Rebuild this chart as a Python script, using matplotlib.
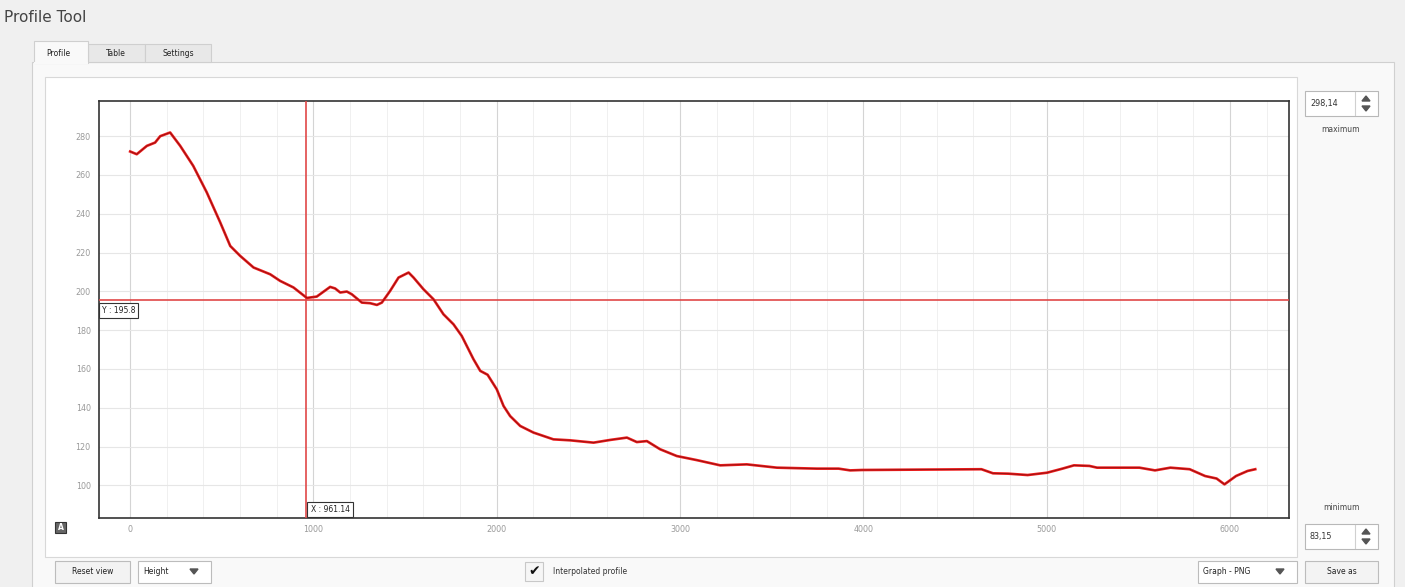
import matplotlib
matplotlib.use("Agg")
import matplotlib.pyplot as plt
from matplotlib.patches import Rectangle, Polygon
from matplotlib.ticker import MultipleLocator

# profile data (distance, height)
dist = [0, 36, 91, 136, 164, 218, 273, 344, 418, 454, 491, 546, 600, 673, 764,
        818, 891, 964, 1018, 1091, 1118, 1146, 1182, 1209, 1264, 1309, 1346,
        1373, 1418, 1464, 1519, 1546, 1600, 1655, 1709, 1764, 1809, 1873, 1910,
        1950, 2000, 2037, 2073, 2128, 2200, 2309, 2400, 2528, 2619, 2710, 2764,
        2819, 2891, 2982, 3091, 3219, 3364, 3528, 3746, 3865, 3928, 3992, 4644,
        4707, 4791, 4896, 5002, 5086, 5149, 5233, 5275, 5506, 5591, 5675, 5780,
        5864, 5927, 5970, 6033, 6096, 6138]
height = [272.1, 270.7, 275.0, 276.7, 280.0, 281.9, 275.0, 264.7, 251.0, 243.4,
          235.6, 223.4, 218.3, 212.3, 208.8, 205.4, 202.0, 196.6, 197.3, 202.3,
          201.5, 199.4, 199.9, 198.5, 194.2, 193.9, 193.0, 194.2, 200.2, 207.1,
          209.7, 207.1, 201.1, 195.9, 188.2, 183.0, 177.0, 165.0, 159.0, 157.0,
          149.5, 140.9, 135.7, 130.6, 127.2, 123.7, 123.2, 122.0, 123.4, 124.6,
          122.3, 122.8, 118.6, 115.1, 113.0, 110.3, 110.8, 109.1, 108.6, 108.6,
          107.7, 107.9, 108.3, 106.2, 106.0, 105.3, 106.5, 108.6, 110.3, 110.0,
          109.1, 109.1, 107.7, 109.1, 108.3, 104.8, 103.5, 100.5, 104.8, 107.4,
          108.3]

y_min, y_max = 83.15, 298.14
x_lim = (-170, 6322)
cursor_x = 961.14
cursor_y = 195.8

W, H = 1405, 587
fig = plt.figure(figsize=(W / 100, H / 100), dpi=100)
fig.patch.set_facecolor("#f0f0f0")

# background "window" drawn in pixel coords
bg = fig.add_axes([0, 0, 1, 1], zorder=0)
bg.set_xlim(0, W)
bg.set_ylim(H, 0)
bg.axis("off")


def box(x0, y0, x1, y1, fc="#ffffff", ec="#bdbdbd", lw=0.8, z=1):
    bg.add_patch(Rectangle((x0, y0), x1 - x0, y1 - y0, facecolor=fc,
                           edgecolor=ec, linewidth=lw, zorder=z))


bg.text(4, 18, "Profile Tool", fontsize=11, color="#444444", va="center",
        ha="left")

# tab panel
box(32, 62, 1394, 590, fc="#f9f9f9", ec="#d0d0d0")
box(34, 41, 88, 63, fc="#f9f9f9", ec="#cfcfcf", z=2)
bg.plot([35, 87], [62.6, 62.6], color="#f9f9f9", lw=1.5, zorder=3)
box(88, 44, 145, 62, fc="#e8e8e8", ec="#cfcfcf")
box(145, 44, 211, 62, fc="#e8e8e8", ec="#cfcfcf")
bg.text(58, 53, "Profile", fontsize=5.5, ha="center", va="center", color="#222")
bg.text(116, 53, "Table", fontsize=5.5, ha="center", va="center", color="#222")
bg.text(178, 53, "Settings", fontsize=5.5, ha="center", va="center", color="#222")

# plot widget area
box(45, 77, 1297, 557, fc="#ffffff", ec="#d8d8d8")

# "A" icon
box(55, 522, 66, 533, fc="#666666", ec="#333333")
bg.text(60.5, 527.5, "A", fontsize=5.5, ha="center", va="center", color="white",
        fontweight="bold")

# right side spin boxes
for (yy, val) in [(91, "298,14"), (524, "83,15")]:
    box(1305, yy, 1378, yy + 25, fc="#ffffff", ec="#b8b8b8")
    bg.plot([1355, 1355], [yy + 1, yy + 24], color="#d0d0d0", lw=0.8)
    bg.text(1310, yy + 12.5, val, fontsize=5.8, ha="left", va="center", color="#333")
    bg.add_patch(Polygon([[1362, yy + 10], [1370, yy + 10], [1366, yy + 5]],
                         color="#555", zorder=3))
    bg.add_patch(Polygon([[1362, yy + 15], [1370, yy + 15], [1366, yy + 20]],
                         color="#555", zorder=3))
bg.text(1341, 130, "maximum", fontsize=5.5, ha="center", va="center", color="#444")
bg.text(1341, 508, "minimum", fontsize=5.5, ha="center", va="center", color="#444")

# bottom row controls
box(55, 561, 130, 583, fc="#f3f3f3", ec="#bcbcbc")
bg.text(92.5, 572, "Reset view", fontsize=5.5, ha="center", va="center", color="#222")
box(138, 561, 211, 583, fc="#ffffff", ec="#bcbcbc")
bg.text(143, 572, "Height", fontsize=5.5, ha="left", va="center", color="#222")
bg.add_patch(Polygon([[190, 569], [198, 569], [194, 574]], color="#555", zorder=3))

box(525, 562, 543, 581, fc="#f6f6f6", ec="#c8c8c8")
bg.text(534, 571.5, "\u2714", fontsize=10, ha="center", va="center", color="#111")
bg.text(553, 572, "Interpolated profile", fontsize=5.5, ha="left", va="center",
        color="#333")

box(1198, 561, 1297, 583, fc="#ffffff", ec="#bcbcbc")
bg.text(1203, 572, "Graph - PNG", fontsize=5.5, ha="left", va="center", color="#222")
bg.add_patch(Polygon([[1276, 569], [1284, 569], [1280, 574]], color="#555", zorder=3))
box(1305, 561, 1378, 583, fc="#f3f3f3", ec="#bcbcbc")
bg.text(1341.5, 572, "Save as", fontsize=5.5, ha="center", va="center", color="#222")

# the profile plot
ax = fig.add_axes([99 / W, (H - 518) / H, 1190 / W, 417 / H], zorder=2)
ax.set_facecolor("white")
ax.set_xlim(*x_lim)
ax.set_ylim(y_min, y_max)

ax.xaxis.set_major_locator(MultipleLocator(1000))
ax.xaxis.set_minor_locator(MultipleLocator(200))
ax.yaxis.set_major_locator(MultipleLocator(20))
ax.grid(which="major", axis="x", color="#d4d4d4", lw=0.8)
ax.grid(which="major", axis="y", color="#e6e6e6", lw=0.8)
ax.grid(which="minor", axis="x", color="#f0f0f0", lw=0.7)
ax.set_axisbelow(True)

ax.tick_params(which="both", length=0, labelsize=5.8, labelcolor="#9a9a9a")
ax.tick_params(axis="x", pad=5)
ax.tick_params(axis="y", pad=6)
for s in ax.spines.values():
    s.set_color("#333333")
    s.set_linewidth(1.2)

# cursor lines
ax.axhline(cursor_y, color="#e04848", lw=1.2, zorder=3)
ax.axvline(cursor_x, color="#e04848", lw=1.2, zorder=3)

# profile line
ax.plot(dist, height, color="#ee1c1c", lw=1.9, zorder=4, solid_joinstyle="round")
ax.plot(dist, height, color="#6a0c0c", lw=0.6, zorder=5, alpha=0.7)

# cursor value labels
ax.annotate("Y : %.1f" % cursor_y, xy=(0, cursor_y), xycoords=("axes fraction", "data"),
            xytext=(2, -8), textcoords="offset points", fontsize=5.5, ha="left",
            va="center", color="#222",
            bbox=dict(boxstyle="square,pad=0.4", fc="white", ec="#333", lw=0.8),
            zorder=6)
ax.annotate("X : %.2f" % cursor_x, xy=(cursor_x, 0), xycoords=("data", "axes fraction"),
            xytext=(3, 6), textcoords="offset points", fontsize=5.5, ha="left",
            va="center", color="#222",
            bbox=dict(boxstyle="square,pad=0.4", fc="white", ec="#333", lw=0.8),
            zorder=6)

fig.savefig("out.png", dpi=100, facecolor=fig.get_facecolor())
